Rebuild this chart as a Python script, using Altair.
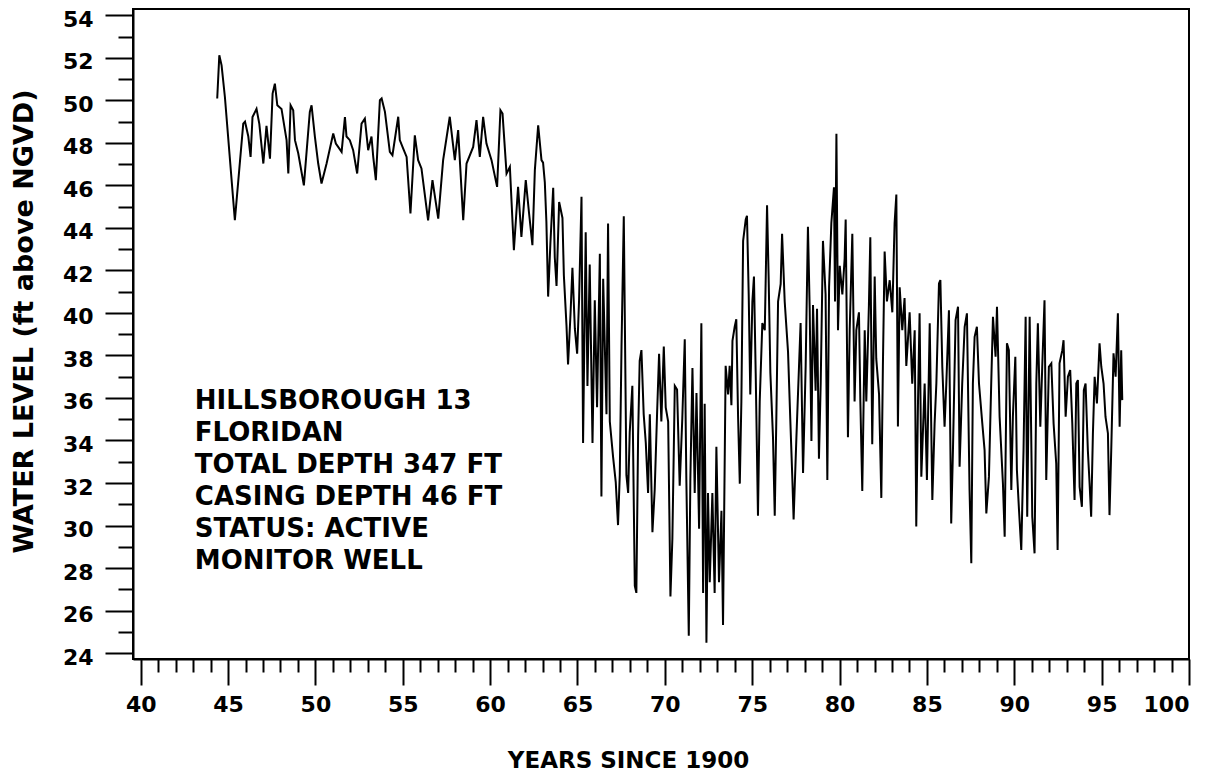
import altair as alt
import pandas as pd

# ---- data (years since 1900, ft above NGVD) ----
YEARS_A = [44.38, 44.50, 44.63, 44.82, 45.39, 45.87, 45.97, 46.16, 46.29, 46.40,
           46.63, 46.79, 47.02, 47.20, 47.40, 47.55, 47.68, 47.82, 48.06, 48.35,
           48.45, 48.58, 48.73, 48.83, 49.02, 49.34, 49.68, 49.78, 49.97, 50.16,
           50.35, 50.64, 51.02, 51.17, 51.50, 51.69, 51.78, 51.97, 52.16, 52.39,
           52.64, 52.83, 53.02, 53.21, 53.31, 53.46]
LEVEL_A = [50.09, 52.12, 51.65, 50.16, 44.36, 48.91, 49.00, 48.30, 47.34, 49.22,
           49.60, 48.90, 47.03, 48.80, 47.26, 50.32, 50.79, 49.77, 49.60, 48.13,
           46.56, 49.77, 49.54, 48.13, 47.50, 46.00, 49.46, 49.77, 48.30, 47.03,
           46.09, 47.03, 48.44, 47.97, 47.58, 49.22, 48.30, 48.13, 47.66, 46.56,
           48.91, 49.14, 47.66, 48.30, 47.34, 46.25]

YEARS_B = [53.69, 53.79, 53.98, 54.26, 54.41, 54.74, 54.83, 55.02, 55.22, 55.44,
           55.69, 55.88, 56.07, 56.45, 56.70, 57.03, 57.31, 57.69, 57.98, 58.17,
           58.46, 58.65, 59.03, 59.22, 59.41, 59.60, 59.79, 60.08, 60.40, 60.59,
           60.71, 60.94, 61.13, 61.36, 61.60, 61.79, 62.04, 62.23, 62.42, 62.56,
           62.75, 62.94]
LEVEL_B = [50.01, 50.09, 49.46, 47.58, 47.42, 49.23, 48.13, 47.74, 47.34, 44.68,
           48.36, 47.19, 46.80, 44.36, 46.25, 44.44, 47.19, 49.23, 47.19, 48.60,
           44.36, 47.03, 47.81, 49.07, 47.34, 49.23, 47.97, 47.19, 45.93, 49.54,
           49.38, 46.56, 46.87, 42.95, 45.93, 43.58, 46.25, 44.68, 43.19, 46.72,
           48.83, 47.19]

YEARS_C = [63.03, 63.13, 63.22, 63.32, 63.45, 63.61, 63.70, 63.80, 63.95, 64.14,
           64.22, 64.37, 64.46, 64.60, 64.71, 64.85, 64.98, 65.09, 65.23, 65.32,
           65.47, 65.57, 65.70, 65.86, 65.99, 66.12, 66.28, 66.37, 66.47, 66.66,
           66.75, 66.85, 67.04, 67.19, 67.32, 67.42, 67.52, 67.65, 67.80, 67.90,
           67.99, 68.14, 68.28, 68.37, 68.47, 68.56, 68.66, 68.79, 68.91, 69.04,
           69.14, 69.29, 69.42, 69.56, 69.67, 69.80, 69.94, 70.05, 70.19, 70.32,
           70.43, 70.57, 70.70, 70.85, 71.00, 71.14, 71.23, 71.37, 71.46, 71.58,
           71.71, 71.81, 71.96, 72.09, 72.19, 72.28, 72.38, 72.47, 72.57, 72.72,
           72.85, 72.95, 73.10, 73.24, 73.33, 73.43]
LEVEL_C = [47.07, 46.15, 44.30, 40.77, 43.29, 45.89, 42.62, 41.27, 45.22, 44.47,
           41.78, 39.43, 37.58, 39.93, 42.12, 39.26, 38.08, 40.60, 45.47, 33.88,
           43.80, 36.57, 42.28, 33.88, 40.60, 35.56, 42.79, 31.36, 41.61, 35.23,
           44.21, 34.89, 33.21, 32.04, 30.02, 32.37, 38.42, 44.55, 32.37, 31.53,
           34.39, 36.57, 27.16, 26.83, 34.22, 37.75, 38.25, 35.23, 33.88, 31.53,
           35.23, 29.68, 31.70, 35.39, 38.08, 34.89, 38.42, 35.56, 34.89, 26.66,
           29.35, 36.57, 36.40, 31.87, 35.06, 38.76, 32.20, 24.81, 32.20, 37.41,
           31.53, 36.23, 29.85, 39.51, 26.83, 35.73, 24.48, 31.53, 27.33, 31.53,
           26.83, 33.71, 27.33, 30.69, 25.32, 33.38]

YEARS_D = [73.48, 73.62, 73.71, 73.81, 73.87, 74.00, 74.09, 74.19, 74.29, 74.38,
           74.48, 74.63, 74.70, 74.80, 74.89, 75.01, 75.10, 75.20, 75.33, 75.43,
           75.58, 75.72, 75.85, 75.94, 76.04, 76.19, 76.29, 76.38, 76.48, 76.63,
           76.71, 76.86, 77.05, 77.18, 77.30, 77.37, 77.53, 77.68, 77.77, 77.91,
           78.06, 78.19, 78.29, 78.39, 78.48, 78.63, 78.71, 78.82, 78.92, 79.05,
           79.20, 79.30, 79.40, 79.53, 79.68, 79.74, 79.82, 79.91, 80.01, 80.16,
           80.29, 80.35, 80.48, 80.58, 80.73, 80.86, 80.96, 81.11, 81.19, 81.30,
           81.44, 81.53, 81.68, 81.76, 81.87, 82.01, 82.10, 82.26, 82.39, 82.48,
           82.58, 82.71, 82.87, 83.02, 83.15, 83.25, 83.34, 83.44, 83.59, 83.72,
           83.82, 84.01, 84.16, 84.30, 84.39, 84.49]
LEVEL_D = [37.51, 36.17, 37.51, 35.66, 38.69, 39.36, 39.70, 35.16, 31.97, 35.83,
           43.39, 44.40, 44.57, 40.87, 36.17, 40.54, 41.71, 37.17, 30.46, 35.83,
           39.53, 39.19, 45.07, 41.71, 37.17, 34.15, 30.46, 34.99, 40.54, 41.37,
           43.73, 40.54, 38.18, 34.99, 32.14, 30.29, 34.15, 37.51, 39.53, 32.47,
           37.51, 44.06, 40.20, 33.98, 40.37, 36.34, 40.20, 33.14, 36.67, 43.39,
           40.87, 32.14, 41.21, 44.23, 45.91, 40.54, 48.43, 39.19, 42.22, 40.87,
           42.55, 44.40, 34.15, 39.19, 43.73, 35.83, 39.19, 40.03, 35.83, 31.63,
           39.19, 35.83, 40.37, 43.56, 33.82, 41.71, 37.85, 36.17, 31.30, 37.51,
           42.89, 40.54, 41.54, 40.03, 44.23, 45.57, 34.66, 41.21, 39.19, 40.70,
           37.51, 40.03, 36.67, 39.19, 29.95, 35.83]

YEARS_E = [84.58, 84.68, 84.87, 85.00, 85.16, 85.31, 85.44, 85.54, 85.69, 85.77,
           85.88, 86.01, 86.11, 86.26, 86.39, 86.49, 86.64, 86.78, 86.87, 87.02,
           87.16, 87.29, 87.44, 87.54, 87.63, 87.73, 87.86, 87.98, 88.17, 88.30,
           88.40, 88.55, 88.68, 88.78, 88.93, 89.01, 89.16, 89.35, 89.45, 89.58,
           89.69, 89.83, 89.92, 90.06, 90.15, 90.27, 90.40, 90.53, 90.65, 90.74,
           90.88, 91.03, 91.16, 91.26, 91.35, 91.49, 91.60, 91.73, 91.83, 91.98,
           92.12, 92.25, 92.40, 92.48, 92.59, 92.75, 92.82, 92.94, 93.07, 93.20,
           93.32, 93.45, 93.55, 93.64, 93.74, 93.87, 93.98, 94.08, 94.21, 94.31,
           94.40, 94.50, 94.60, 94.73, 94.88, 94.98, 95.11, 95.22, 95.36, 95.45,
           95.55, 95.68, 95.80, 95.93, 96.03, 96.12, 96.18]
LEVEL_E = [39.98, 32.30, 36.68, 32.14, 39.51, 31.20, 34.80, 36.68, 41.39, 41.55,
           37.47, 34.65, 36.68, 40.13, 30.10, 33.55, 39.66, 40.29, 32.77, 36.68,
           39.35, 39.98, 31.67, 28.22, 36.68, 38.88, 39.35, 36.68, 34.80, 33.55,
           30.57, 32.30, 36.68, 39.82, 37.94, 40.29, 35.12, 31.98, 29.47, 38.57,
           38.25, 31.67, 35.12, 37.94, 32.61, 30.73, 28.85, 33.55, 39.82, 30.41,
           39.82, 30.41, 28.69, 36.68, 39.51, 34.65, 37.47, 40.60, 32.14, 37.47,
           37.63, 34.80, 32.92, 28.85, 37.63, 38.25, 38.72, 35.12, 37.00, 37.31,
           34.80, 31.20, 36.68, 36.84, 31.82, 30.88, 36.37, 36.68, 33.55, 31.98,
           30.41, 34.33, 37.00, 35.74, 38.57, 37.47, 36.68, 35.12, 34.33, 30.49,
           33.55, 38.10, 37.00, 39.98, 34.65, 38.25, 35.90]

X_MAJOR = [40, 45, 50, 55, 60, 65, 70, 75, 80, 85, 90, 95, 100]
X_MINOR = [v for v in range(41, 100) if v % 5 != 0]
Y_MAJOR = list(range(24, 55, 2))
Y_MINOR = list(range(25, 54, 2))

NOTE_LINES = ["HILLSBOROUGH 13", "FLORIDAN", "TOTAL DEPTH 347 FT",
              "CASING DEPTH 46 FT", "STATUS: ACTIVE", "MONITOR WELL"]
NOTE_YEAR = [43.1]
NOTE_LEVEL = [35.5]

years = YEARS_A + YEARS_B + YEARS_C + YEARS_D + YEARS_E
levels = LEVEL_A + LEVEL_B + LEVEL_C + LEVEL_D + LEVEL_E
df = pd.DataFrame({"year": years, "level": levels})
note = pd.DataFrame({"year": NOTE_YEAR, "level": NOTE_LEVEL,
                     "label": ["\n".join(NOTE_LINES)]})

FONT = "DejaVu Sans"
xs = alt.Scale(domain=[39.56, 100.0], nice=False, zero=False)
ys = alt.Scale(domain=[23.72, 54.3], nice=False, zero=False)

line = alt.Chart(df).mark_line(color="black", strokeWidth=2).encode(
    x=alt.X("year:Q", scale=xs, axis=alt.Axis(
        values=X_MAJOR, orient="bottom", tickSize=26, labelPadding=9,
        format="d", title="YEARS SINCE 1900", titleX=495, titleY=108,
        titleAlign="center", titleBaseline="alphabetic", titleFontSize=23)),
    y=alt.Y("level:Q", scale=ys, axis=alt.Axis(
        values=Y_MAJOR, orient="left", tickSize=28, labelPadding=12,
        labelOffset=4, format="d", title="WATER LEVEL (ft above NGVD)",
        titleAngle=270, titleX=-101, titleY=312, titleAlign="center",
        titleBaseline="alphabetic", titleFontSize=27)),
    order="year:Q",
)

text = alt.Chart(note).mark_text(
    align="left", baseline="alphabetic", lineBreak="\n", lineHeight=32,
    font=FONT, fontSize=26, fontWeight="bold", color="black").encode(
    x=alt.X("year:Q", scale=xs, axis=alt.Axis(
        values=X_MINOR, orient="bottom", tickSize=13, labels=False,
        domain=False, title=None)),
    y=alt.Y("level:Q", scale=ys, axis=alt.Axis(
        values=Y_MINOR, orient="left", tickSize=15, labels=False,
        domain=False, title=None)),
    text="label:N",
)

chart = alt.layer(line, text).resolve_axis(
    x="independent", y="independent"
).properties(
    width=1056, height=650,
    autosize=alt.AutoSizeParams(type="none"),
    padding={"left": 125, "top": 1, "right": 26, "bottom": 115},
).configure_view(
    stroke="black", strokeWidth=2
).configure_axis(
    grid=False, labelFont=FONT, labelFontSize=22, labelFontWeight="bold",
    labelColor="black", tickColor="black", tickWidth=2, domainColor="black",
    domainWidth=2, titleFont=FONT, titleColor="black", titleFontWeight="bold",
)

chart.save("out.html", embed_options={"renderer": "svg", "actions": False})
